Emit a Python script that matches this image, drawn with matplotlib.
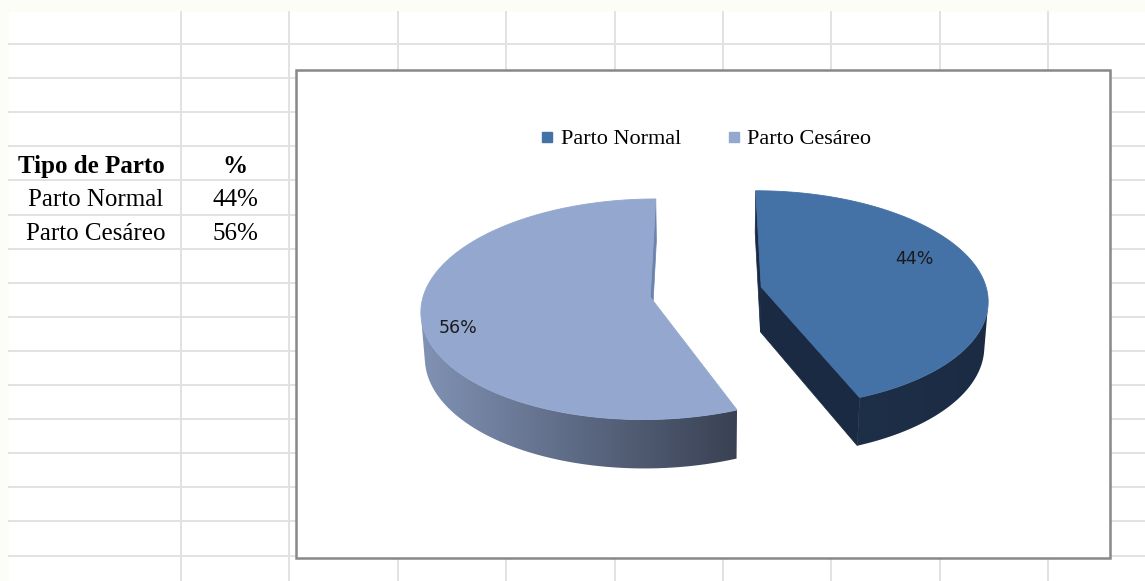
import numpy as np
import matplotlib
matplotlib.use("Agg")
import matplotlib.pyplot as plt
from matplotlib.patches import Polygon, Rectangle
from matplotlib.lines import Line2D
from matplotlib.colors import to_rgb

# ---------------- data ----------------
categories = ["Parto Normal", "Parto Cesáreo"]
shares = [44, 56]
pct_labels = ["44%", "56%"]
table_header = ["Tipo de Parto", "%"]

# ---------------- style ----------------
top_colors = ["#4471a6", "#93a7cf"]
side_left = [to_rgb("#1e2f48"), to_rgb("#8192b4")]
side_right = [to_rgb("#1b2b43"), to_rgb("#394153")]
radial_colors = ["#1a2a42", "#6d82ad"]
label_r = [0.76, 0.86]
label_shift = [-10, -8]

W, H = 1145, 581
fig = plt.figure(figsize=(W / 100, H / 100), dpi=100)
ax = fig.add_axes([0, 0, 1, 1])

# ---------------- spreadsheet background ----------------
ax.add_patch(Rectangle((0, 0), W, H, color="#fdfdf7", zorder=0))
ax.add_patch(Rectangle((9, 12), W - 9, H - 12, color="white", zorder=0.1))
grid_x = [181 + 108.4 * i for i in range(9)]
grid_y = [44 + 34.1 * i for i in range(16)]
for gx in grid_x:
    ax.plot([gx, gx], [12, H], color="#e2e2e2", lw=1.4, zorder=0.2)
for gy in grid_y:
    ax.plot([9, W], [gy, gy], color="#e2e2e2", lw=1.4, zorder=0.2)

# table
serif = "Liberation Serif"
ax.text(91, 173, table_header[0], fontfamily=serif, fontweight="bold",
        fontsize=18, ha="center", va="baseline", zorder=3)
ax.text(235, 173, table_header[1], fontfamily=serif, fontweight="bold",
        fontsize=18, ha="center", va="baseline", zorder=3)
row_base = [206, 240]
for i, (c, p) in enumerate(zip(categories, pct_labels)):
    ax.text(96, row_base[i], c, fontfamily=serif, fontsize=18,
            ha="center", va="baseline", zorder=3)
    ax.text(235, row_base[i], p, fontfamily=serif, fontsize=18,
            ha="center", va="baseline", zorder=3)

# chart area
ax.add_patch(Rectangle((296, 70), 814, 488, facecolor="white",
                       edgecolor="#888888", lw=1.8, zorder=1))

# ---------------- 3D pie ----------------
cx, cy = 706, 292
scale = 226.0
D = 8.0
phi = np.deg2rad(28.5)
t = 0.23
explode = 0.25
cam = np.array([0.0, D * np.sin(phi), -D * np.cos(phi)])  # (X, H, Z)


def proj(X, Z, Hh):
    d = D + Z * np.cos(phi) - Hh * np.sin(phi)
    u = Z * np.sin(phi) + Hh * np.cos(phi)
    return cx + scale * D * X / d, cy - scale * D * u / d


total = float(sum(shares))
bounds = np.concatenate([[0], np.cumsum(shares) / total * 360.0])

for k in range(len(shares)):
    a1, a2 = bounds[k], bounds[k + 1]
    mid = np.deg2rad((a1 + a2) / 2)
    ex, ez = explode * np.sin(mid), explode * np.cos(mid)
    th = np.deg2rad(np.linspace(a1, a2, 300))
    rx = ex + np.sin(th)
    rz = ez + np.cos(th)

    # radial faces
    for ang, sgn in [(np.deg2rad(a1), -1), (np.deg2rad(a2), 1)]:
        n = sgn * np.array([np.cos(ang), 0, -np.sin(ang)])
        P = np.array([ex + 0.5 * np.sin(ang), -t / 2, ez + 0.5 * np.cos(ang)])
        if np.dot(cam - P, n) <= 0:
            continue
        pts = [(ex, ez, 0), (ex + np.sin(ang), ez + np.cos(ang), 0),
               (ex + np.sin(ang), ez + np.cos(ang), -t), (ex, ez, -t)]
        poly = [proj(*p) for p in pts]
        ax.add_patch(Polygon(poly, closed=True, facecolor=radial_colors[k],
                             edgecolor=radial_colors[k], lw=0.5, zorder=2))

    # outer curved side: visible part as one polygon with gradient fill
    vis = ((cam[0] - rx) * np.sin(th) + (cam[2] - rz) * np.cos(th)) > 0
    idx = np.where(vis)[0]
    if len(idx) > 1:
        i0, i1 = idx[0], idx[-1]
        ux, uy = proj(rx[i0:i1 + 1], rz[i0:i1 + 1], 0)
        lx_, ly_ = proj(rx[i0:i1 + 1], rz[i0:i1 + 1], -t)
        side_poly = list(zip(ux, uy)) + list(zip(lx_[::-1], ly_[::-1]))
        sp = Polygon(side_poly, closed=True, facecolor="none",
                     edgecolor="none", zorder=2.1)
        ax.add_patch(sp)
        x0, x1 = min(ux.min(), lx_.min()), max(ux.max(), lx_.max())
        y0, y1 = min(uy.min(), ly_.min()) - 3, max(uy.max(), ly_.max()) + 3
        fr = np.linspace(0, 1, 256)
        grad = (1 - fr)[:, None] * np.array(side_left[k]) + fr[:, None] * np.array(side_right[k])
        img = ax.imshow(grad[None, :, :], extent=[x0 - 1, x1 + 1, y1, y0],
                        aspect="auto", interpolation="bilinear", zorder=2.1)
        img.set_clip_path(sp)

    # top face
    tx, ty = proj(rx, rz, 0)
    c0 = proj(ex, ez, 0)
    top = [c0] + list(zip(tx, ty))
    ax.add_patch(Polygon(top, closed=True, facecolor=top_colors[k],
                         edgecolor=top_colors[k], lw=0.6, zorder=2.5))
    # data label
    la = mid + np.deg2rad(label_shift[k])
    lx, ly = proj(ex + label_r[k] * np.sin(la), ez + label_r[k] * np.cos(la), 0)
    ax.text(lx, ly, pct_labels[k], fontfamily="DejaVu Sans", fontsize=12.5,
            color="#1a1a1a", ha="center", va="center", zorder=3)

# legend
handles = [Line2D([], [], marker="s", linestyle="none", markersize=7,
                  markerfacecolor=top_colors[i], markeredgecolor=top_colors[i])
           for i in range(len(categories))]
ax.legend(handles, categories, loc="center", ncol=2, frameon=False,
          bbox_to_anchor=(706 / W, 1 - 139 / H), bbox_transform=fig.transFigure,
          prop={"family": serif, "size": 16}, handlelength=0.6,
          handletextpad=0.3, columnspacing=2.1, borderpad=0)

ax.set_xlim(0, W)
ax.set_ylim(H, 0)
ax.axis("off")
fig.savefig("out.png", dpi=100)
